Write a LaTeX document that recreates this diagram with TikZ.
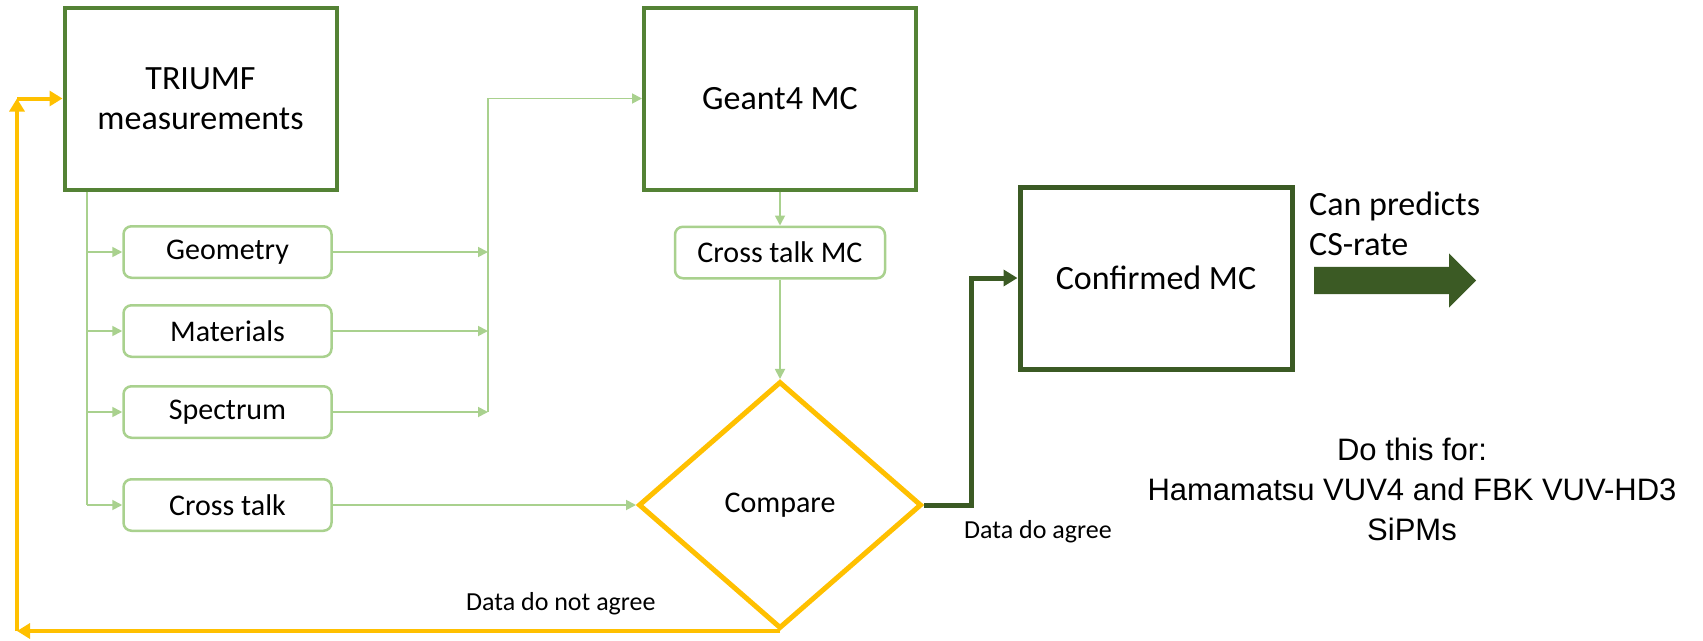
\documentclass[tikz,border=0pt]{standalone}
\usepackage{fontspec}
\setmainfont{Carlito}
\newfontfamily\arialfont{Liberation Sans}
\usetikzlibrary{positioning,shapes.geometric,shapes.arrows,arrows.meta}
\definecolor{boxgreen}{HTML}{548235}
\definecolor{darkgreen}{HTML}{3B5A24}
\definecolor{palegreen}{HTML}{A9D18E}
\definecolor{gold}{HTML}{FFC000}
\begin{document}
\begin{tikzpicture}[x=1pt,y=-1pt,
  bigbox/.style={rectangle, draw=boxgreen, fill=white, line width=4pt, minimum width=272pt, minimum height=182pt, align=center, font=\fontsize{34}{40}\selectfont},
  finalbox/.style={bigbox, draw=darkgreen, line width=5pt},
  inputbox/.style={rectangle, rounded corners=8pt, draw=palegreen, fill=white, line width=2.5pt, minimum width=208pt, minimum height=51.5pt, align=center, font=\fontsize{30}{36}\selectfont},
  decision/.style={diamond, draw=gold, fill=white, line width=5pt, inner sep=0pt, minimum width=283pt, minimum height=247pt, font=\fontsize{30}{36}\selectfont},
  feed/.style={draw=palegreen, line width=1.8pt, >={Triangle[length=10pt,width=10pt]}},
  agree/.style={draw=darkgreen, line width=5pt, -{Triangle[length=14pt,width=16pt]}},
  retry/.style={draw=gold, line width=4pt, -{Triangle[length=13pt,width=15pt]}},
  note/.style={inner sep=0pt, font=\fontsize{26}{31}\selectfont}]
  \useasboundingbox (0,0) rectangle (1703,640);
  \node[bigbox] (triumf) at (200.5,98.5) {TRIUMF\\measurements};
  \node[bigbox] (geant) at (780,98.5) {Geant4 MC};
  \node[finalbox] (confirmed) at (1156,278) {Confirmed MC};
  \node[inputbox] (geometry) at (227.5,252) {Geometry};
  \node[inputbox] (materials) at (227.5,331) {Materials};
  \node[inputbox] (spectrum) at (227.5,412) {Spectrum};
  \node[inputbox] (crosstalk) at (227.5,505) {Cross talk};
  \node[inputbox, minimum width=210pt] (ctmc) at (780,252.5) {Cross talk MC};
  \node[decision] (compare) at (780,505) {Compare};
  \coordinate (trunk) at (87,505);
  \coordinate (collect) at (488,98.5);
  \coordinate (bend) at (971,505);
  \coordinate (loop) at (17,98.5);
  \draw[feed] (triumf.south -| trunk) -- (trunk);
  \foreach \n in {geometry,materials,spectrum,crosstalk}
    \draw[feed,->] (\n.west -| trunk) -- (\n.west);
  \foreach \n in {geometry,materials,spectrum}
    \draw[feed,->] (\n.east) -- (\n.east -| collect);
  \draw[feed,->] (spectrum.east -| collect) -- (collect) -- (geant.west);
  \draw[feed,->] (geant) -- (ctmc);
  \draw[feed,->] (ctmc) -- (compare);
  \draw[feed,->] (crosstalk) -- (compare);
  \draw[agree] (compare.east) -- (bend) |- (confirmed.west);
  \draw[retry] (compare.south) -- (compare.south -| loop);
  \draw[retry] (compare.south -| loop) -- (loop);
  \draw[retry] (loop) -- (triumf.west);
  \node[note, anchor=base west] (agreed) at (964,538) {Data do agree};
  \node[note, anchor=base west] (disagreed) at (466,610) {Data do not agree};
  \node[anchor=west, align=left, inner sep=0pt, font=\fontsize{34}{40}\selectfont] (predicts) at (1309,224) {Can predicts\\CS-rate};
  \node[single arrow, fill=darkgreen, anchor=tail, inner xsep=0pt, inner ysep=13.5pt, single arrow head extend=13.5pt, minimum height=162pt] (outcome) at (1314,280.5) {};
  \node[align=center, inner sep=0pt, font=\arialfont\fontsize{31}{40}\selectfont] (sipms) at (1412,489) {Do this for:\\Hamamatsu VUV4 and FBK VUV-HD3\\SiPMs};
\end{tikzpicture}
\end{document}
